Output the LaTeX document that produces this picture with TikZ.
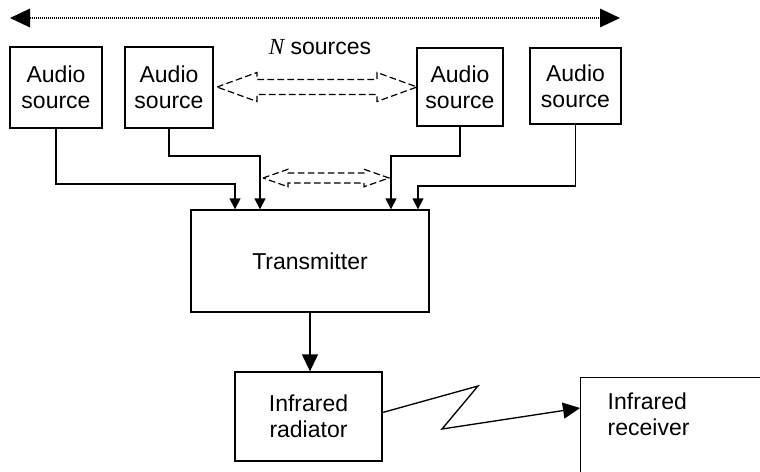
\documentclass[tikz,border=0pt]{standalone}
\usepackage{fontspec}
\setmainfont{Liberation Sans}
\newfontfamily\timesfont{Liberation Serif}
\usetikzlibrary{arrows.meta,calc}

\begin{document}
\begin{tikzpicture}[x=0.75pt,y=-0.75pt,line width=1pt,
  every node/.style={font=\fontsize{17.25}{19.5}\selectfont},
  blk/.style={draw,rectangle,inner sep=0pt,align=center},
  arr/.style={-{Triangle[length=8.25pt,width=8.25pt]}},
  bigarr/.style={-{Triangle[length=12.75pt,width=12pt]}},
  dbl/.style={dash pattern=on 5pt off 2.5pt,line width=0.9pt}]
\useasboundingbox (0,0) rectangle (760,471);
\coordinate (wl) at (10,18);
\coordinate (wr) at (620,18);
\draw[dash pattern=on 0.75pt off 0.75pt,line width=0.8pt,
  {Triangle[length=15pt,width=14pt]}-{Triangle[length=15pt,width=14pt]}] (wl) -- (wr);
\node (ns) at (320,47) {{\timesfont\itshape N} sources};
\node[blk,minimum width=69pt,minimum height=60.75pt] (s1) at (56,87.5) {Audio\\source};
\node[blk,minimum width=66pt,minimum height=60.75pt] (s2) at (169,87.5) {Audio\\source};
\node[blk,minimum width=64.5pt,minimum height=58.5pt] (s3) at (460,87) {Audio\\source};
\node[blk,minimum width=68.25pt,minimum height=57pt] (s4) at (575.5,86) {Audio\\source};
\coordinate (na) at (217,87);
\coordinate (nb) at (263,178);
\draw[dbl] (na) -- ++(40,-14.5) -- ++(0,7) -- ++(120,0) -- ++(0,-7) -- ++(40,14.5)
  -- ++(-40,14.5) -- ++(0,-7) -- ++(-120,0) -- ++(0,7) -- cycle;
\draw[dbl] (nb) -- ++(25,-8.75) -- ++(0,3.75) -- ++(76,0) -- ++(0,-3.75) -- ++(25,8.75)
  -- ++(-25,8.75) -- ++(0,-3.75) -- ++(-76,0) -- ++(0,3.75) -- cycle;
\node[blk,minimum width=178.5pt,minimum height=76.5pt] (tx) at (310,261) {Transmitter};
\node[blk,minimum width=110.25pt,minimum height=66.75pt] (rad) at (308.5,416.5) {Infrared\\radiator};
\node[draw,anchor=north west,align=left,text width=150pt,inner xsep=20.25pt,
  inner ysep=11.25pt,text depth=60pt] (rcv) at (580,377) {Infrared\\receiver};
\coordinate (j1) at (235,184);
\coordinate (j2) at (260,156);
\coordinate (j3) at (391,156);
\coordinate (j4) at (418,186);
\draw[arr] (s1) |- (j1) -- (j1 |- tx.north);
\draw[arr] (s2) |- (j2) -- (j2 |- tx.north);
\draw[arr] (s3) |- (j3) -- (j3 |- tx.north);
\draw[arr] (s4) |- (j4) -- (j4 |- tx.north);
\draw[bigarr] (tx.south) -- (tx.south |- rad.north);
\coordinate (z1) at (478,386);
\coordinate (z2) at (442,429);
\draw[bigarr] ($(rad.east)+(0,-4)$) -- (z1) -- (z2) -- ($(rcv.north west)+(0,31)$);
\end{tikzpicture}
\end{document}
